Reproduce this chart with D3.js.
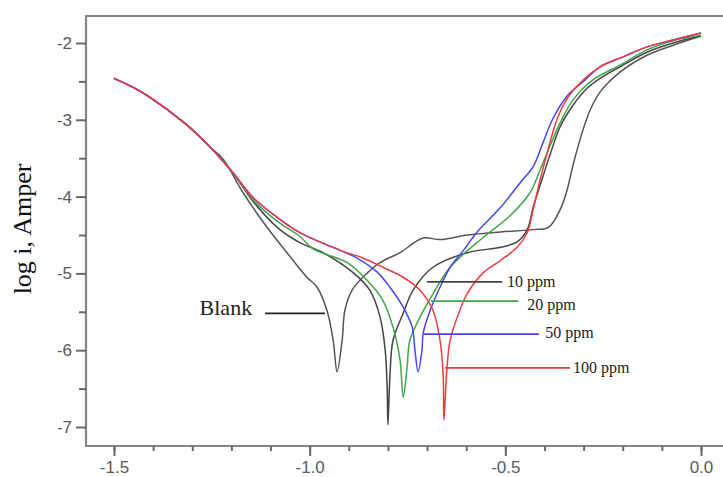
<html>

<head>
    <script src="https://d3js.org/d3.v7.min.js"></script>
    <style>
        body { margin: 0; background: #fff; }
    </style>
</head>

<body>
    <div id="vis"></div>
</body>

<script>

    // tick values
    var xTicks = [-1.5, -1.0, -0.5, 0.0];
    var xMinorTicks = d3.range(-15, 1).map(function (d) { return d / 10; });
    var yTicks = [-2, -3, -4, -5, -6, -7];
    var yMinorTicks = [-2.5, -3.5, -4.5, -5.5, -6.5];

    // curves: [E (V), log i]
    var cathodicStart = [[-1.50, -2.46], [-1.45, -2.58], [-1.41, -2.70], [-1.32, -3.04], [-1.255, -3.35]];

    var blank = cathodicStart.concat([[-1.22, -3.52], [-1.17, -3.95], [-1.109, -4.40], [-1.058, -4.73],
    [-1.007, -5.05], [-0.981, -5.18], [-0.956, -5.48], [-0.940, -5.87], [-0.930, -6.28],
    [-0.917, -5.87], [-0.910, -5.48], [-0.892, -5.22], [-0.864, -5.05], [-0.820, -4.86],
    [-0.769, -4.73], [-0.710, -4.54], [-0.667, -4.56], [-0.597, -4.50], [-0.512, -4.46],
    [-0.429, -4.43], [-0.390, -4.40], [-0.360, -4.17], [-0.342, -3.91], [-0.327, -3.59],
    [-0.304, -3.17], [-0.283, -2.87], [-0.258, -2.64], [-0.207, -2.38], [-0.138, -2.16],
    [-0.071, -2.03], [0.0, -1.91]]);

    var ppm10 = cathodicStart.concat([[-1.196, -3.69], [-1.145, -4.06], [-1.083, -4.40], [-1.025, -4.60],
    [-0.966, -4.73], [-0.889, -4.99], [-0.846, -5.22], [-0.820, -5.57], [-0.807, -6.00],
    [-0.802, -6.48], [-0.800, -6.97], [-0.795, -6.35], [-0.787, -5.87], [-0.761, -5.52],
    [-0.736, -5.22], [-0.685, -4.92], [-0.597, -4.73], [-0.512, -4.66], [-0.470, -4.59],
    [-0.444, -4.43], [-0.429, -4.14], [-0.411, -3.85], [-0.386, -3.46], [-0.360, -3.09],
    [-0.327, -2.81], [-0.291, -2.59], [-0.258, -2.46], [-0.207, -2.31], [-0.138, -2.12],
    [-0.071, -2.00], [0.0, -1.91]]);

    var ppm20 = cathodicStart.concat([[-1.196, -3.69], [-1.145, -4.04], [-1.083, -4.32], [-1.025, -4.52],
    [-0.991, -4.68], [-0.904, -4.86], [-0.853, -5.09], [-0.813, -5.35], [-0.787, -5.70],
    [-0.769, -6.13], [-0.761, -6.61], [-0.751, -6.22], [-0.744, -5.87], [-0.718, -5.57],
    [-0.692, -5.33], [-0.641, -4.92], [-0.556, -4.53], [-0.488, -4.25], [-0.437, -3.95],
    [-0.411, -3.65], [-0.393, -3.43], [-0.360, -3.04], [-0.327, -2.74], [-0.276, -2.48],
    [-0.207, -2.29], [-0.138, -2.09], [-0.071, -1.97], [0.0, -1.90]]);

    var ppm50 = cathodicStart.concat([[-1.196, -3.69], [-1.145, -4.01], [-1.083, -4.27], [-1.025, -4.47],
    [-0.974, -4.59], [-0.922, -4.70], [-0.879, -4.80], [-0.828, -4.98], [-0.795, -5.18],
    [-0.761, -5.44], [-0.738, -5.70], [-0.731, -6.00], [-0.723, -6.28], [-0.713, -6.00],
    [-0.710, -5.78], [-0.692, -5.48], [-0.667, -5.18], [-0.641, -4.92], [-0.607, -4.70],
    [-0.572, -4.46], [-0.512, -4.14], [-0.462, -3.82], [-0.429, -3.61], [-0.404, -3.30],
    [-0.378, -2.98], [-0.342, -2.69], [-0.296, -2.48], [-0.258, -2.31], [-0.199, -2.18],
    [-0.138, -2.05], [-0.071, -1.96], [0.0, -1.87]]);

    var ppm100 = cathodicStart.concat([[-1.196, -3.69], [-1.145, -4.01], [-1.083, -4.27], [-1.025, -4.47],
    [-0.974, -4.59], [-0.922, -4.70], [-0.864, -4.80], [-0.813, -4.92], [-0.761, -5.05],
    [-0.718, -5.22], [-0.685, -5.48], [-0.667, -5.87], [-0.659, -6.30], [-0.657, -6.91],
    [-0.649, -6.22], [-0.641, -5.87], [-0.623, -5.57], [-0.597, -5.26], [-0.556, -4.99],
    [-0.512, -4.83], [-0.470, -4.66], [-0.444, -4.47], [-0.429, -4.17], [-0.411, -3.78],
    [-0.393, -3.43], [-0.373, -3.07], [-0.352, -2.81], [-0.322, -2.59], [-0.258, -2.31],
    [-0.199, -2.18], [-0.138, -2.05], [-0.071, -1.96], [0.0, -1.87]]);

    var seriesNames = ["Blank", "10 ppm", "20 ppm", "50 ppm", "100 ppm"];
    var seriesData = [blank, ppm10, ppm20, ppm50, ppm100];
    var seriesColors = ["#555555", "#444444", "#3fa64a", "#4646f2", "#f03c3c"];

    // leader lines: [E start, E end, log i], label position E
    var leaderLines = [[-1.114, -0.961, -5.52], [-0.700, -0.508, -5.11], [-0.690, -0.467, -5.36],
    [-0.708, -0.414, -5.79], [-0.654, -0.335, -6.23]];
    var labelE = [-1.147, -0.496, -0.444, -0.398, -0.327];
    var labelLogI = [-5.44, -5.11, -5.41, -5.77, -6.22];

    var width = 723, height = 477;

    var svg = d3.select("#vis")
        .append("svg")
        .attr("width", width)
        .attr("height", height)
        .style("font-family", "'Liberation Sans', Arial, sans-serif");

    var x = d3.scaleLinear().domain([-1.5, 0]).range([114, 701]);
    var y = d3.scaleLinear().domain([-2, -7]).range([43, 427]);

    var frameLeft = 86, frameTop = 16, frameBottom = 446;

    // frame (open on the right, cropped)
    svg.append("path")
        .attr("d", "M" + width + "," + frameTop + "H" + frameLeft + "V" + frameBottom + "H" + width)
        .attr("fill", "none")
        .attr("stroke", "#858585")
        .attr("stroke-width", 2.2);

    // x axis
    svg.append("g")
        .attr("transform", "translate(0," + frameBottom + ")")
        .call(d3.axisBottom(x).tickValues(xTicks).tickSize(10).tickPadding(5)
            .tickFormat(function (d) { return d.toFixed(1); }));
    svg.append("g")
        .attr("transform", "translate(0," + frameBottom + ")")
        .call(d3.axisBottom(x).tickValues(xMinorTicks).tickSize(5).tickFormat(""));

    // y axis
    svg.append("g")
        .attr("transform", "translate(" + frameLeft + ",0)")
        .call(d3.axisLeft(y).tickValues(yTicks).tickSize(10).tickPadding(4)
            .tickFormat(function (d) { return String(d); }));
    svg.append("g")
        .attr("transform", "translate(" + frameLeft + ",0)")
        .call(d3.axisLeft(y).tickValues(yMinorTicks).tickSize(7).tickFormat(""));

    svg.selectAll(".domain").remove();
    svg.selectAll(".tick line").attr("stroke", "#6a6a6a").attr("stroke-width", 2);
    svg.selectAll(".tick text")
        .attr("fill", "#5a5a5a")
        .style("font-size", "17px")
        .style("font-family", "'Liberation Sans', Arial, sans-serif");

    // y axis label
    svg.append("text")
        .attr("transform", "translate(31,229) rotate(-90)")
        .style("text-anchor", "middle")
        .style("font-family", "'Liberation Serif', 'Times New Roman', serif")
        .style("font-size", "26px")
        .attr("fill", "#111")
        .text("log i, Amper");

    // curves
    var line = d3.line()
        .x(function (d) { return x(d[0]); })
        .y(function (d) { return y(d[1]); })
        .curve(d3.curveCatmullRom.alpha(0.5));

    svg.append("g")
        .selectAll("path")
        .data(seriesData)
        .enter()
        .append("path")
        .attr("d", line)
        .attr("fill", "none")
        .attr("stroke", function (d, i) { return seriesColors[i]; })
        .attr("stroke-width", 1.5)
        .attr("stroke-linejoin", "round");

    // leader lines and labels
    svg.append("g")
        .selectAll("line")
        .data(leaderLines)
        .enter()
        .append("line")
        .attr("x1", function (d) { return x(d[0]); })
        .attr("x2", function (d) { return x(d[1]); })
        .attr("y1", function (d) { return y(d[2]); })
        .attr("y2", function (d) { return y(d[2]); })
        .attr("stroke", function (d, i) { return i == 0 ? "#222" : seriesColors[i]; })
        .attr("stroke-width", 1.8);

    svg.append("g")
        .selectAll("text")
        .data(seriesNames)
        .enter()
        .append("text")
        .attr("x", function (d, i) { return x(labelE[i]); })
        .attr("y", function (d, i) { return y(labelLogI[i]); })
        .attr("dy", "0.35em")
        .style("text-anchor", function (d, i) { return i == 0 ? "end" : "start"; })
        .style("font-family", "'Liberation Serif', 'Times New Roman', serif")
        .style("font-size", function (d, i) { return i == 0 ? "22px" : "16px"; })
        .attr("fill", "#222")
        .text(function (d) { return d; });

</script>

</html>
